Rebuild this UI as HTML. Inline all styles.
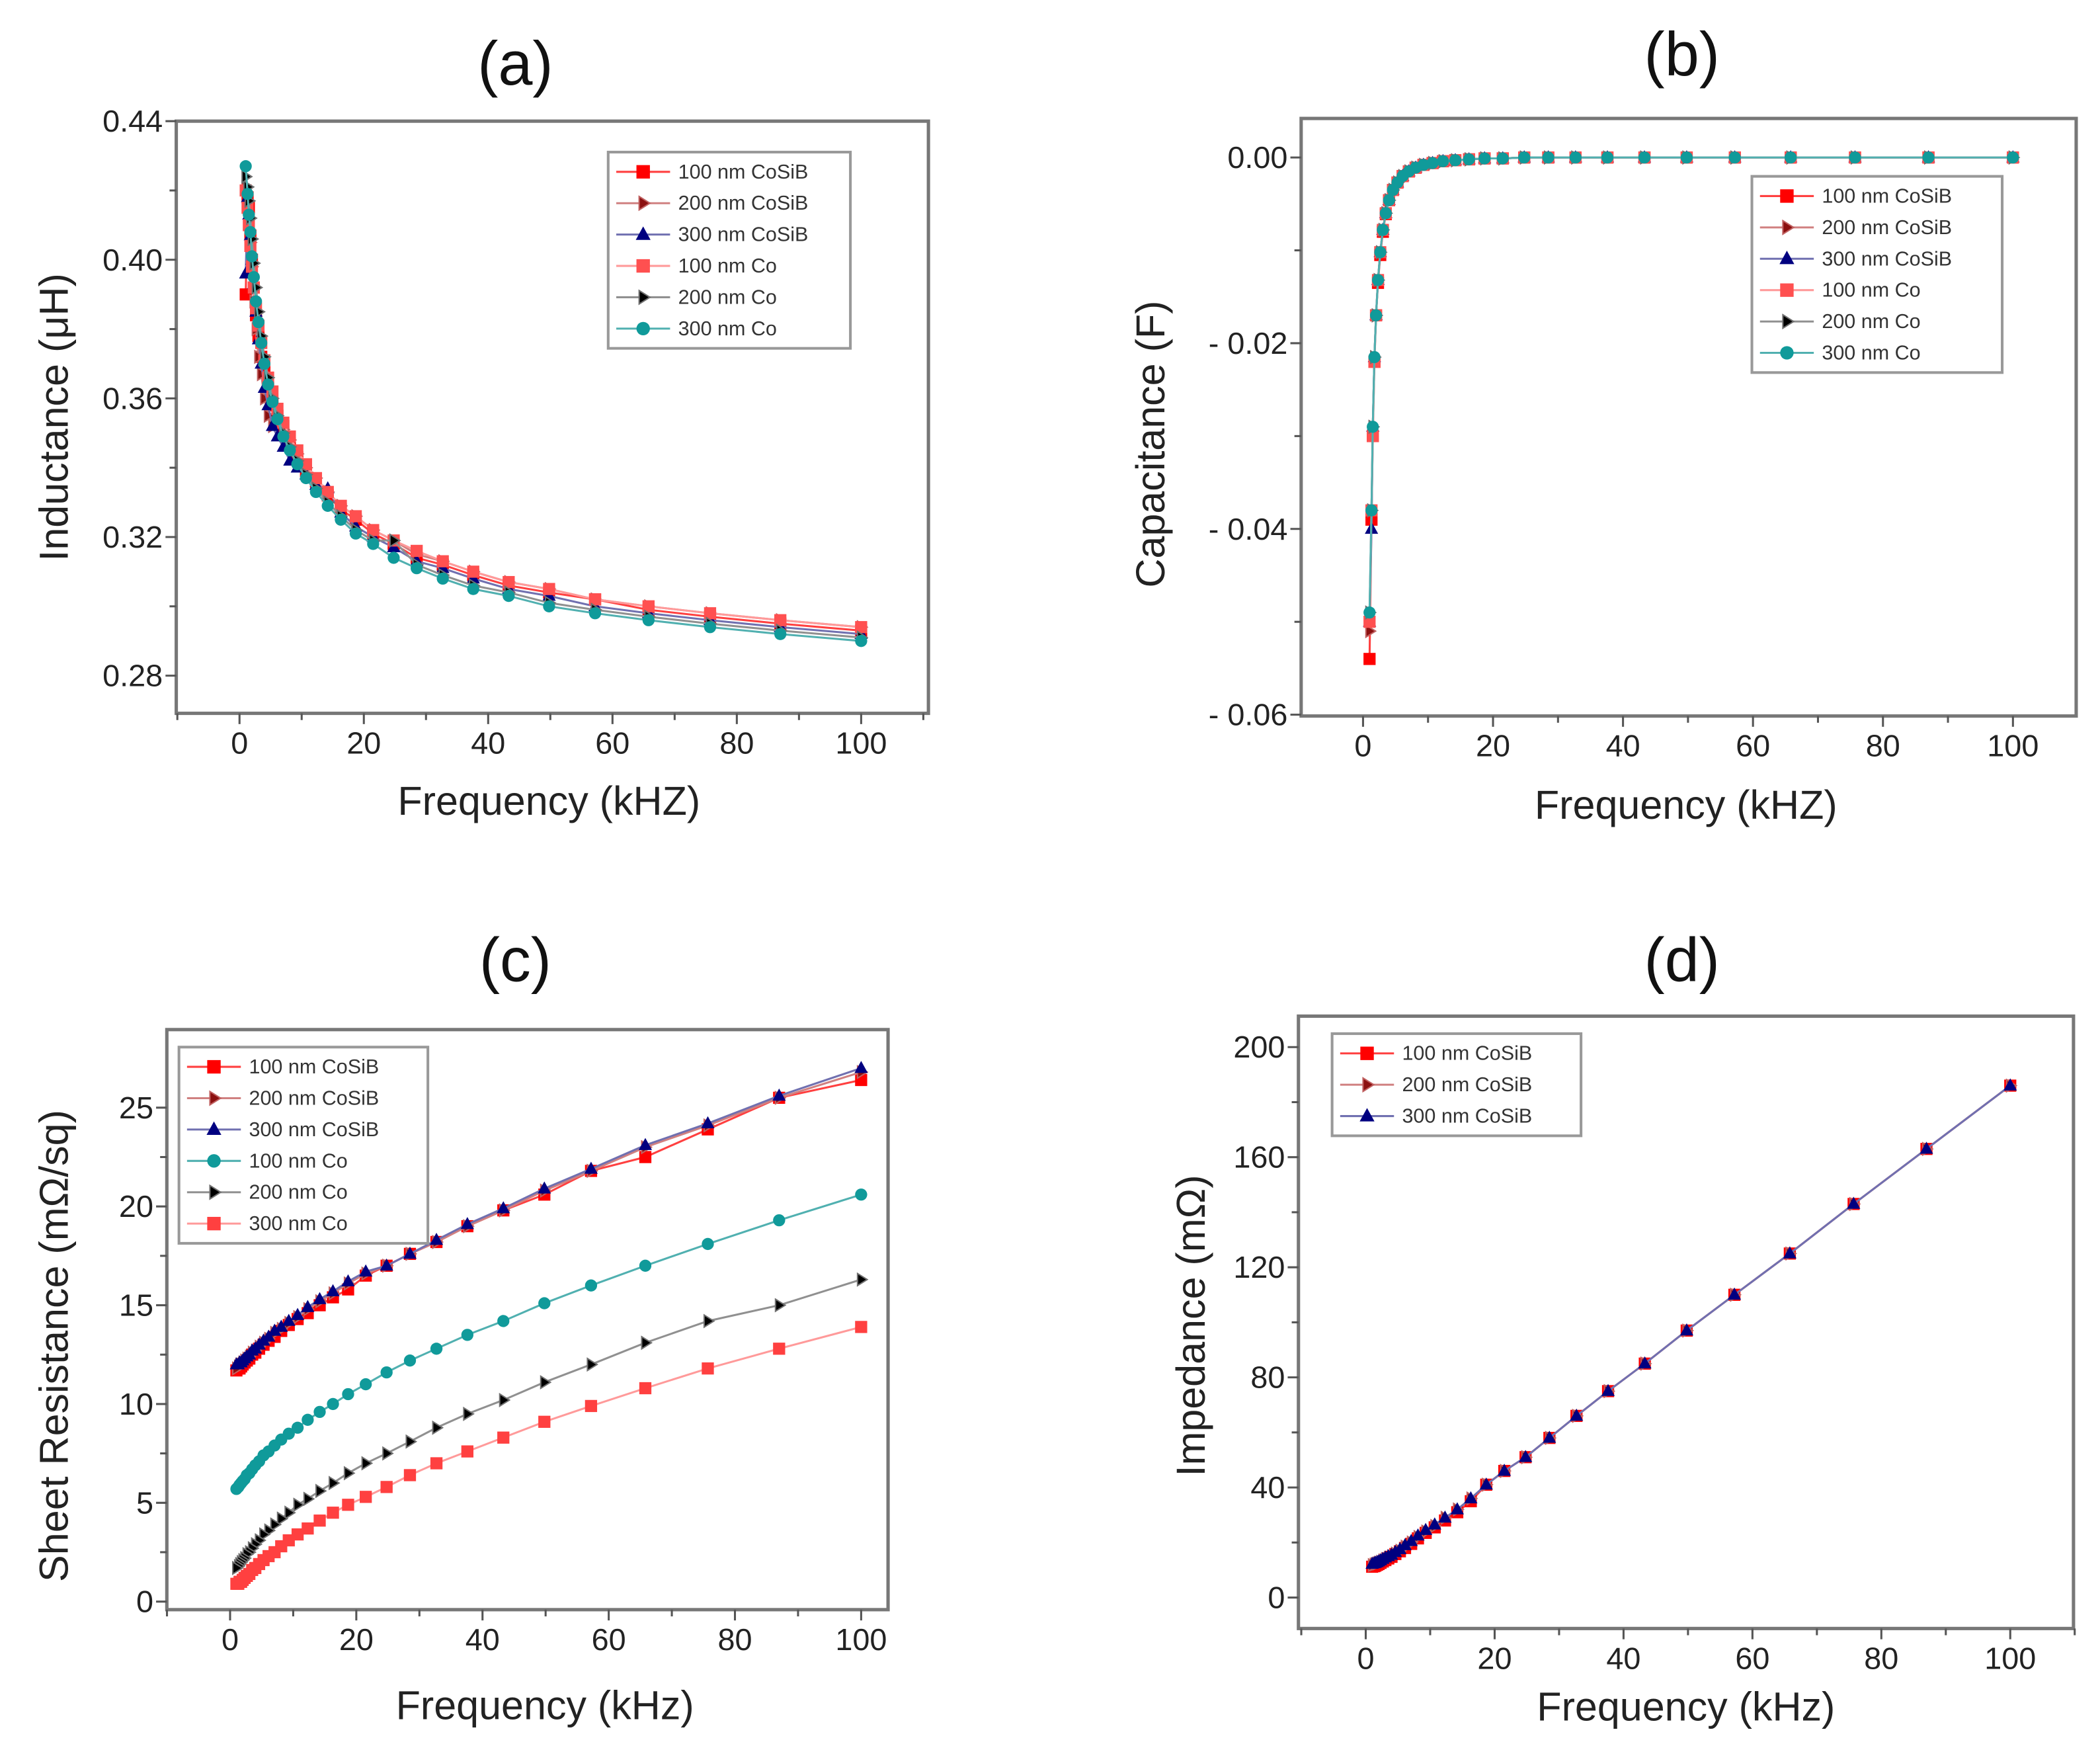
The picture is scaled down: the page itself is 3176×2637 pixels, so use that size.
<!DOCTYPE html>
<html><head><meta charset="utf-8"><style>html,body{margin:0;padding:0;background:#fff}svg{display:block}text{font-family:"Liberation Sans",sans-serif}</style></head>
<body>
<svg id="fig" width="3176" height="2637" viewBox="0 0 1560.7 1295.8" xmlns="http://www.w3.org/2000/svg"></svg>
<script>
const freq=[100,87,75.7,65.8,57.2,49.8,43.3,37.6,32.7,28.5,24.8,21.5,18.7,16.3,14.2,12.3,10.7,9.3,8.1,7.05,6.1,5.3,4.6,4.0,3.5,3.05,2.65,2.3,2.0,1.75,1.5,1.3,1.0];
const seriesNames=["100 nm CoSiB","200 nm CoSiB","300 nm CoSiB","100 nm Co","200 nm Co","300 nm Co"];
// (a) inductance
const indCoSiB100=[0.293,0.295,0.297,0.299,0.302,0.304,0.306,0.309,0.312,0.314,0.318,0.321,0.325,0.328,0.332,0.336,0.339,0.343,0.347,0.352,0.355,0.358,0.363,0.368,0.372,0.378,0.384,0.392,0.400,0.407,0.415,0.418,0.390];
const indCoSiB200=[0.294,0.296,0.298,0.300,0.302,0.305,0.307,0.310,0.313,0.315,0.319,0.322,0.326,0.329,0.333,0.337,0.340,0.344,0.348,0.351,0.353,0.352,0.355,0.360,0.367,0.372,0.380,0.388,0.398,0.405,0.412,0.417,0.421];
const indCoSiB300=[0.292,0.294,0.296,0.298,0.300,0.303,0.305,0.308,0.311,0.313,0.317,0.320,0.323,0.327,0.334,0.335,0.338,0.340,0.342,0.346,0.349,0.352,0.358,0.363,0.370,0.377,0.385,0.393,0.400,0.407,0.413,0.418,0.396];
const indCo100=[0.294,0.296,0.298,0.300,0.302,0.305,0.307,0.310,0.313,0.316,0.319,0.322,0.326,0.329,0.333,0.337,0.341,0.345,0.349,0.353,0.357,0.362,0.366,0.371,0.376,0.381,0.386,0.392,0.398,0.404,0.410,0.415,0.420];
const indCo200=[0.291,0.293,0.295,0.297,0.299,0.301,0.304,0.306,0.309,0.312,0.319,0.319,0.322,0.326,0.330,0.334,0.338,0.342,0.346,0.350,0.355,0.360,0.366,0.372,0.378,0.385,0.392,0.399,0.406,0.412,0.417,0.421,0.424];
const indCo300=[0.290,0.292,0.294,0.296,0.298,0.300,0.303,0.305,0.308,0.311,0.314,0.318,0.321,0.325,0.329,0.333,0.337,0.341,0.345,0.349,0.354,0.359,0.364,0.370,0.376,0.382,0.388,0.395,0.401,0.408,0.413,0.419,0.427];
// (b) capacitance
const capCoSiB100=[0,0,0,0,0,0,0,0,0,0,0,-0.0001,-0.0001,-0.0002,-0.0003,-0.0004,-0.0006,-0.0008,-0.0011,-0.0015,-0.002,-0.0027,-0.0035,-0.0046,-0.0061,-0.008,-0.0105,-0.0135,-0.017,-0.022,-0.030,-0.039,-0.054];
const capCoSiB200=[0,0,0,0,0,0,0,0,0,0,0,-0.0001,-0.0001,-0.0002,-0.0003,-0.0004,-0.0006,-0.0008,-0.0011,-0.0015,-0.002,-0.0027,-0.0035,-0.0046,-0.006,-0.0078,-0.0102,-0.0132,-0.017,-0.0215,-0.029,-0.038,-0.051];
const capCoSiB300=[0,0,0,0,0,0,0,0,0,0,0,-0.0001,-0.0001,-0.0002,-0.0003,-0.0004,-0.0006,-0.0008,-0.0011,-0.0015,-0.002,-0.0027,-0.0035,-0.0046,-0.006,-0.0078,-0.0102,-0.0132,-0.017,-0.0215,-0.029,-0.040,-0.050];
const capCo100=[0,0,0,0,0,0,0,0,0,0,0,-0.0001,-0.0001,-0.0002,-0.0003,-0.0004,-0.0006,-0.0008,-0.0011,-0.0015,-0.002,-0.0027,-0.0035,-0.0046,-0.006,-0.0078,-0.0102,-0.0132,-0.017,-0.022,-0.030,-0.038,-0.050];
const capCo200=[0,0,0,0,0,0,0,0,0,0,0,-0.0001,-0.0001,-0.0002,-0.0003,-0.0004,-0.0006,-0.0008,-0.0011,-0.0015,-0.002,-0.0027,-0.0035,-0.0046,-0.006,-0.0078,-0.0102,-0.0132,-0.017,-0.0215,-0.029,-0.038,-0.049];
const capCo300=[0,0,0,0,0,0,0,0,0,0,0,-0.0001,-0.0001,-0.0002,-0.0003,-0.0004,-0.0006,-0.0008,-0.0011,-0.0015,-0.002,-0.0027,-0.0035,-0.0046,-0.006,-0.0078,-0.0102,-0.0132,-0.017,-0.0215,-0.029,-0.038,-0.049];
// (c) sheet resistance
const rsCoSiB100=[26.4,25.5,23.9,22.5,21.8,20.6,19.8,19.0,18.2,17.6,17.0,16.5,15.8,15.4,15.0,14.6,14.3,14.0,13.7,13.4,13.2,13.0,12.8,12.6,12.5,12.3,12.2,12.1,12.0,11.9,11.8,11.8,11.7];
const rsCoSiB200=[26.8,25.5,24.1,23.0,21.8,20.8,19.8,19.0,18.2,17.6,17.0,16.6,16.1,15.6,15.2,14.8,14.4,14.1,13.8,13.6,13.3,13.1,12.9,12.7,12.6,12.4,12.3,12.2,12.1,12.0,12.0,11.9,11.8];
const rsCoSiB300=[27.0,25.6,24.2,23.1,21.9,20.9,19.9,19.1,18.3,17.6,17.0,16.7,16.2,15.7,15.3,14.9,14.5,14.2,13.9,13.7,13.4,13.2,13.0,12.8,12.7,12.5,12.4,12.3,12.2,12.1,12.1,12.0,12.0];
const rsCo100=[20.6,19.3,18.1,17.0,16.0,15.1,14.2,13.5,12.8,12.2,11.6,11.0,10.5,10.0,9.6,9.2,8.8,8.5,8.2,7.9,7.6,7.4,7.1,6.9,6.7,6.5,6.4,6.2,6.1,6.0,5.9,5.8,5.7];
const rsCo200=[16.3,15.0,14.2,13.1,12.0,11.1,10.2,9.5,8.8,8.1,7.5,7.0,6.5,6.0,5.6,5.2,4.9,4.5,4.2,3.9,3.6,3.4,3.1,2.9,2.7,2.5,2.4,2.2,2.1,2.0,1.9,1.8,1.7];
const rsCo300=[13.9,12.8,11.8,10.8,9.9,9.1,8.3,7.6,7.0,6.4,5.8,5.3,4.9,4.5,4.1,3.7,3.4,3.1,2.8,2.5,2.3,2.1,1.9,1.7,1.6,1.4,1.3,1.2,1.1,1.0,1.0,0.9,0.9];
// (d) impedance
const zCoSiB100=[186,163,143,125,110,97,85,75,66,58,51,46,41,35,31,28,25.5,23.5,21.5,19.5,18,16.8,15.8,14.8,14.2,13.6,13.1,12.6,12.2,11.9,11.6,11.4,11.2];
const zCoSiB200=[186,163,143,125,110,97,85,75,66,58,51,46,41,36,32,29,26,24,22,20,18.5,17,16,15,14.5,14,13.5,13,12.7,12.4,12.2,12,11.8];
const zCoSiB300=[186,163,143,125,110,97,85,75,66,58,51,46,41,36,32,29,26.5,24.5,22.5,20.5,19,17.5,16.5,15.5,15,14.5,14,13.5,13.1,12.8,12.6,12.4,12.2];

const SVGNS="http://www.w3.org/2000/svg";
const svg=document.getElementById('fig');
function mk(tag,attrs,parent){const e=document.createElementNS(SVGNS,tag);for(const k in attrs)e.setAttribute(k,attrs[k]);(parent||svg).appendChild(e);return e;}

const styles=[
 {m:'square',fill:'#ff0000',stroke:'#ff0000',line:'#ff4040'},
 {m:'rtri',fill:'#8b1010',stroke:'#c06060',line:'#d08080'},
 {m:'tri',fill:'#000080',stroke:'#000080',line:'#7070b0'},
 {m:'square',fill:'#ff5050',stroke:'#ff9090',line:'#ff9a9a'},
 {m:'rtri',fill:'#000000',stroke:'#707070',line:'#909090'},
 {m:'circle',fill:'#109a9a',stroke:'#109a9a',line:'#50b0b0'}
];
function marker(g,type,x,y,st,r){
  let e;
  if(type==='square') e=mk('rect',{x:x-r,y:y-r,width:2*r,height:2*r,fill:st.fill},g);
  else if(type==='tri') e=mk('polygon',{points:`${x},${y-r*1.2} ${x-r*1.1},${y+r*0.8} ${x+r*1.1},${y+r*0.8}`,fill:st.fill},g);
  else if(type==='rtri') e=mk('polygon',{points:`${x-r*0.6},${y-r} ${x+r},${y} ${x-r*0.6},${y+r}`,fill:st.fill,stroke:st.stroke,'stroke-width':1},g);
  else e=mk('circle',{cx:x,cy:y,r:r,fill:st.fill},g);
  return e;
}

function panel(cfg){
  const g=mk('g',{});
  
  
  const X=v=>cfg.xp0+(v-0)*(cfg.xp1-cfg.xp0)/100;
  const Y=v=>cfg.yp0+(v-cfg.yv0)*(cfg.yp1-cfg.yp0)/(cfg.yv1-cfg.yv0);
  const [fl,ft,fr,fb]=cfg.frame;
  const t=mk('text',{x:cfg.title[0],y:cfg.title[1],'font-size':46,'text-anchor':'middle','dominant-baseline':'central',fill:'#111'},g);
  t.textContent=cfg.titleText;
  
  
  const fr_=mk('rect',{x:fl,y:ft,width:fr-fl,height:fb-ft,fill:'none',stroke:'#777',"stroke-width":2.5},g);
  
  
  // x ticks
  for(let v=-10;v<=110;v+=10){const px=X(v);if(px<fl-1||px>fr+1)continue;
    const major=v%20===0;
    mk('line',{x1:px,y1:fb,x2:px,y2:fb+(major?8:5),stroke:'#555','stroke-width':1.5},g);
    if(major&&v>=0&&v<=100){const tx=mk('text',{x:px,y:fb+30,'font-size':23,'text-anchor':'middle',fill:'#222'},g);tx.textContent=v;
      
      }
  }
  cfg.yticks.forEach((v,i)=>{const py=Y(v);
    mk('line',{x1:fl,y1:py,x2:fl-8,y2:py,stroke:'#555','stroke-width':1.5},g);
    const ty=mk('text',{x:fl-10,y:py,'font-size':23,'text-anchor':'end','dominant-baseline':'central',fill:'#222'},g);
    ty.textContent=cfg.ylabels[i];
    
    
    if(i<cfg.yticks.length-1){const m=Y((v+cfg.yticks[i+1])/2);if(m>ft&&m<fb)mk('line',{x1:fl,y1:m,x2:fl-5,y2:m,stroke:'#555','stroke-width':1.5},g);}
  });
  const xt=mk('text',{x:cfg.xtitle[0],y:cfg.xtitle[1],'font-size':30,'text-anchor':'middle','dominant-baseline':'central',fill:'#222'},g);
  xt.textContent=cfg.xtitleText;
  
  
  const yt=mk('text',{x:0,y:0,'font-size':30,'text-anchor':'middle','dominant-baseline':'central',fill:'#222',transform:`translate(${cfg.ytitle[0]},${cfg.ytitle[1]}) rotate(-90)`},g);
  yt.textContent=cfg.ytitleText;
  
  
  // series
  cfg.series.forEach((vals,si)=>{const st=cfg.styles[si];
    const sg=mk('g',{},g);
    
    
    const pts=freq.map((f,i)=>X(f)+','+Y(vals[i])).join(' ');
    mk('polyline',{points:pts,fill:'none',stroke:st.line,'stroke-width':1.5},sg);
    freq.forEach((f,i)=>{const p=marker(sg,st.m,X(f),Y(vals[i]),st,4.5);
      
      });
  });
  // legend
  const [lx,ly,lw]=cfg.legend;const rh=23.3;const n=cfg.names.length;
  const lg=mk('g',{},g);
  
  
  mk('rect',{x:lx,y:ly,width:lw,height:n*rh+6,fill:'#fff',stroke:'#999','stroke-width':2},lg);
  cfg.names.forEach((nm,i)=>{const st=cfg.styles[i];const cy=ly+3+rh*(i+0.5);
    const le=mk('g',{},lg);
    
    
    mk('line',{x1:lx+6,y1:cy,x2:lx+46,y2:cy,stroke:st.line,'stroke-width':1.5},le);
    marker(le,st.m,lx+26,cy,st,5);
    const tx=mk('text',{x:lx+52,y:cy,'font-size':15,'dominant-baseline':'central',fill:'#333'},le);tx.textContent=nm;
  });
}

panel({name:'panel-a-inductance',titleText:'(a)',title:[383,47],frame:[131,90,690,530],xp0:178,xp1:640,yp0:90,yv0:0.44,yp1:502,yv1:0.28,
 yticks:[0.44,0.40,0.36,0.32,0.28],ylabels:['0.44','0.40','0.36','0.32','0.28'],
 xtitleText:'Frequency (kHZ)',xtitle:[408,595],ytitleText:'Inductance (\u03bcH)',ytitle:[40,310],
 series:[indCoSiB100,indCoSiB200,indCoSiB300,indCo100,indCo200,indCo300],styles:styles,names:seriesNames,legend:[452,113,180]});
panel({name:'panel-b-capacitance',titleText:'(b)',title:[1250,40],frame:[967,88,1543,532],xp0:1013,xp1:1496,yp0:117,yv0:0,yp1:531,yv1:-0.06,
 yticks:[0,-0.02,-0.04,-0.06],ylabels:['0.00','- 0.02','- 0.04','- 0.06'],
 xtitleText:'Frequency (kHZ)',xtitle:[1253,598],ytitleText:'Capacitance (F)',ytitle:[855,330],
 series:[capCoSiB100,capCoSiB200,capCoSiB300,capCo100,capCo200,capCo300],styles:styles,names:seriesNames,legend:[1302,131,186]});
const stylesC=[styles[0],styles[1],styles[2],styles[5],styles[4],{m:'square',fill:'#ff4040',stroke:'#ff8080',line:'#ff9a9a'}];
panel({name:'panel-c-sheet-resistance',titleText:'(c)',title:[383,713],frame:[124,765,660,1196],xp0:171,xp1:640,yp0:1190,yv0:0,yp1:823,yv1:25,
 yticks:[0,5,10,15,20,25],ylabels:['0','5','10','15','20','25'],
 xtitleText:'Frequency (kHz)',xtitle:[405,1267],ytitleText:'Sheet Resistance (m\u03a9/sq)',ytitle:[40,1000],
 series:[rsCoSiB100,rsCoSiB200,rsCoSiB300,rsCo100,rsCo200,rsCo300],styles:stylesC,names:seriesNames,legend:[133,778,185]});
panel({name:'panel-d-impedance',titleText:'(d)',title:[1250,713],frame:[965,755,1541,1210],xp0:1015,xp1:1494,yp0:1187,yv0:0,yp1:778,yv1:200,
 yticks:[0,40,80,120,160,200],ylabels:['0','40','80','120','160','200'],
 xtitleText:'Frequency (kHz)',xtitle:[1253,1268],ytitleText:'Impedance (m\u03a9)',ytitle:[885,985],
 series:[zCoSiB100,zCoSiB200,zCoSiB300],styles:styles.slice(0,3),names:seriesNames.slice(0,3),legend:[990,768,185]});
</script>
</body></html>
